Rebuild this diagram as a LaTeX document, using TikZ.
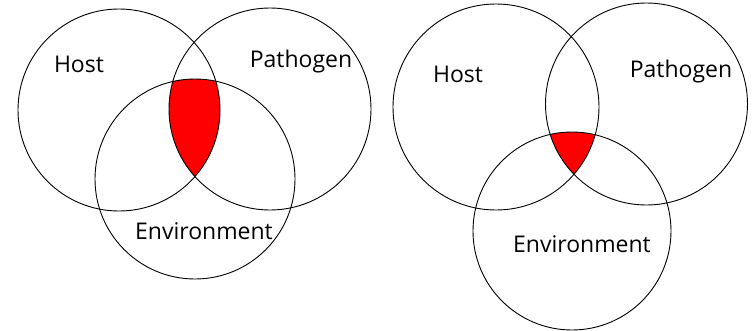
\documentclass[tikz,border=0pt]{standalone}
\usepackage{fontspec}
\setmainfont{Open Sans}
\begin{document}
\begin{tikzpicture}[x=1pt,y=-1pt,
  ring/.style={draw=black,line width=0.9pt},
  lab/.style={anchor=base,inner sep=0pt,font=\fontsize{23}{26}\selectfont}]
\useasboundingbox (0,0) rectangle (753,330);
% left diagram
\coordinate (hA) at (119,110);
\coordinate (pA) at (270,109);
\coordinate (eA) at (195,179);
\begin{scope}
  \clip (hA) circle (101);
  \clip (pA) circle (101);
  \fill[red] (eA) circle (100);
\end{scope}
\draw[ring] (hA) circle (101);
\draw[ring] (pA) circle (101);
\draw[ring] (eA) circle (100);
\node[lab] (hostA) at (79,72) {Host};
\node[lab] (pathA) at (301,67) {Pathogen};
\node[lab] (envA) at (204,239) {Environment};
% right diagram
\coordinate (hB) at (496,107);
\coordinate (pB) at (646.5,104);
\coordinate (eB) at (572,231);
\begin{scope}
  \clip (hB) circle (103);
  \clip (pB) circle (101);
  \fill[red] (eB) circle (99);
\end{scope}
\draw[ring] (hB) circle (103);
\draw[ring] (pB) circle (101);
\draw[ring] (eB) circle (99);
\node[lab] (hostB) at (458,82) {Host};
\node[lab] (pathB) at (681,77) {Pathogen};
\node[lab] (envB) at (582,252) {Environment};
\end{tikzpicture}
\end{document}
